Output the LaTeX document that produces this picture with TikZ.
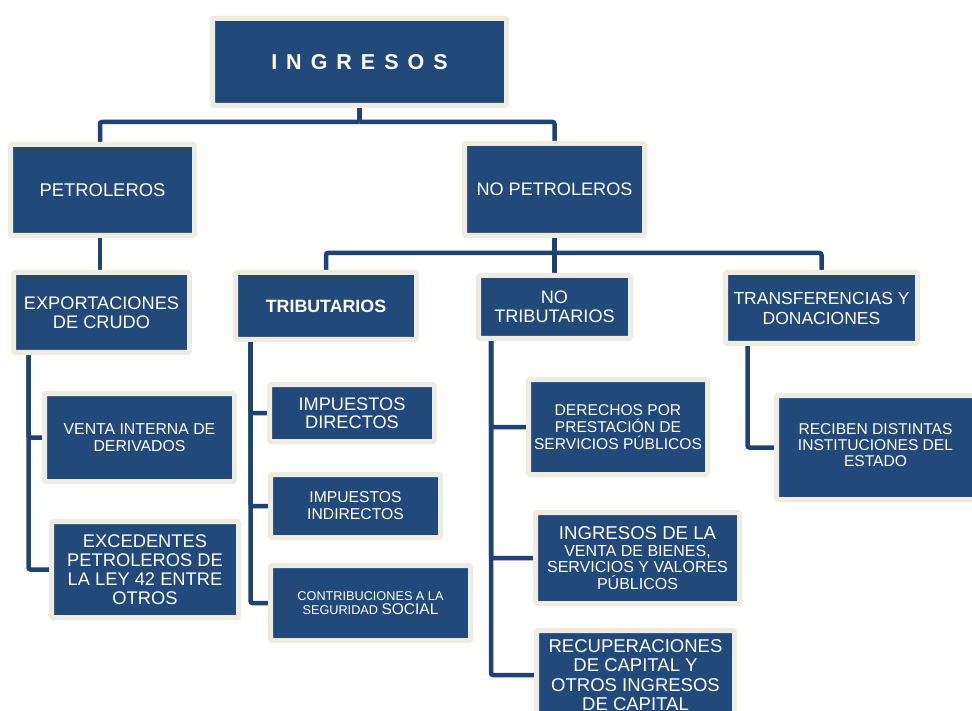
\documentclass[tikz,border=0pt]{standalone}
\usepackage{fontspec}
\setmainfont{Liberation Sans}
\usetikzlibrary{backgrounds}
\definecolor{boxblue}{RGB}{33,73,122}
\definecolor{beige}{RGB}{238,235,224}
\definecolor{linecol}{RGB}{30,66,114}
\tikzset{
  bx/.style={draw=beige, line width=5pt, fill=boxblue, text=white, align=center,
    inner sep=0pt, rounded corners=1.5pt, font=\fontsize{18}{19.5}\selectfont},
  conn/.style={draw=linecol, line width=4.5pt, rounded corners=2pt}
}
\newcommand{\bxsize}[2]{minimum width=#1pt-5pt, minimum height=#2pt-5pt}
\begin{document}
\begin{tikzpicture}[x=1pt,y=-1pt]
\useasboundingbox (0,0) rectangle (972,711);
\clip (0,0) rectangle (972,711);
\node[bx, minimum width=294pt, minimum height=87pt, font=\fontsize{21.5}{24}\selectfont\bfseries] (ing) at (359.5,62)
  {I\hspace{9pt}N\hspace{9pt}G\hspace{9pt}R\hspace{9pt}E\hspace{9pt}S\hspace{9pt}O\hspace{9pt}S};
\node[bx, minimum width=184pt, minimum height=91pt, font=\fontsize{18.4}{20}\selectfont] (pet) at (102.5,190) {PETROLEROS};
\node[bx, minimum width=180pt, minimum height=92pt, font=\fontsize{18.1}{20}\selectfont] (nopet) at (554.5,189.5) {NO PETROLEROS};
\node[bx, minimum width=176pt, minimum height=80pt, font=\fontsize{18.2}{19.5}\selectfont] (exp) at (101.5,312.5) {EXPORTACIONES\\DE CRUDO};
\node[bx, minimum width=190pt, minimum height=88pt, font=\fontsize{15.8}{17}\selectfont] (venta) at (139.5,437.5) {VENTA INTERNA DE\\DERIVADOS};
\node[bx, minimum width=187pt, minimum height=96pt, font=\fontsize{18.3}{19}\selectfont] (exced) at (145,569.5) {EXCEDENTES\\PETROLEROS DE\\LA LEY 42 ENTRE\\OTROS};
\node[bx, minimum width=181pt, minimum height=67pt, font=\fontsize{17.8}{19}\selectfont\bfseries] (trib) at (326,306) {TRIBUTARIOS};
\node[bx, minimum width=165pt, minimum height=57pt, font=\fontsize{18.2}{18}\selectfont] (impd) at (352,413) {IMPUESTOS\\DIRECTOS};
\node[bx, minimum width=170pt, minimum height=63pt, font=\fontsize{15.7}{17}\selectfont] (impi) at (355.5,506) {IMPUESTOS\\INDIRECTOS};
\node[bx, minimum width=200pt, minimum height=75pt, font=\fontsize{12.7}{14.5}\selectfont] (contrib) at (370.5,603) {CONTRIBUCIONES A LA\\SEGURIDAD {\fontsize{15.5}{15}\selectfont SOCIAL}};
\node[bx, minimum width=152pt, minimum height=63pt, font=\fontsize{18.1}{18.5}\selectfont] (notrib) at (554.5,307) {NO\\TRIBUTARIOS};
\node[bx, minimum width=192pt, minimum height=71pt, font=\fontsize{17.5}{20}\selectfont] (trans) at (821.5,308) {TRANSFERENCIAS Y\\DONACIONES};
\node[bx, minimum width=179pt, minimum height=95pt, font=\fontsize{15.6}{16.7}\selectfont] (der) at (618,427) {DERECHOS POR\\PRESTACIÓN DE\\SERVICIOS PÚBLICOS};
\node[bx, minimum width=204pt, minimum height=91pt, font=\fontsize{16}{16.5}\selectfont] (ingv) at (637.5,558) {{\fontsize{18.6}{19}\selectfont INGRESOS DE LA}\\VENTA DE BIENES,\\SERVICIOS Y VALORES\\PÚBLICOS};
\node[bx, minimum width=198pt, minimum height=89pt, font=\fontsize{18.5}{19.5}\selectfont] (recup) at (635.5,675) {RECUPERACIONES\\DE CAPITAL Y\\OTROS INGRESOS\\DE CAPITAL};
\node[bx, minimum width=198pt, minimum height=104pt, font=\fontsize{15.6}{16}\selectfont] (reciben) at (875.5,447.5) {\raisebox{-8pt}{\begin{tabular}{@{}c@{}}RECIBEN DISTINTAS\\INSTITUCIONES DEL\\ESTADO\end{tabular}}};
\begin{scope}[on background layer]
  \draw[conn] (ing.south) -- ++(0,14) coordinate (j1);
  \draw[conn] (j1) -| ([xshift=-2.5pt]pet.north);
  \draw[conn] (j1) -| (nopet.north);
  \draw[conn] ([xshift=-2.5pt]pet.south) -- ([xshift=-1.5pt]exp.north);
  \draw[conn] ([xshift=17.5pt]exp.south west) |- (venta.west);
  \draw[conn] ([xshift=17.5pt]exp.south west) |- (exced.west);
  \draw[conn] (nopet.south) -- ++(0,15) coordinate (j2);
  \draw[conn] (j2) -| (trib.north);
  \draw[conn] (j2) -- (notrib.north);
  \draw[conn] (j2) -| (trans.north);
  \draw[conn] ([xshift=17.5pt]trib.south west) |- (impd.west);
  \draw[conn] ([xshift=17.5pt]trib.south west) |- (impi.west);
  \draw[conn] ([xshift=17.5pt]trib.south west) |- (contrib.west);
  \draw[conn] ([xshift=15pt]notrib.south west) |- (der.west);
  \draw[conn] ([xshift=15pt]notrib.south west) |- (ingv.west);
  \draw[conn] ([xshift=15pt]notrib.south west) |- (recup.west);
  \draw[conn] ([xshift=24.5pt]trans.south west) |- (reciben.west);
\end{scope}
\end{tikzpicture}
\end{document}
